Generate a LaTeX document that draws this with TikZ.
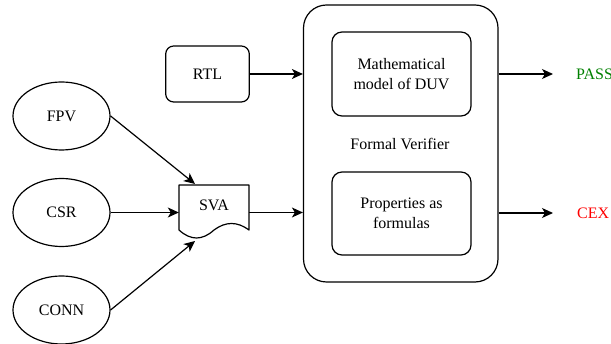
\documentclass[tikz,border=0pt]{standalone}
\usepackage{fontspec}
\setmainfont{Liberation Serif}
\usetikzlibrary{arrows.meta,shapes.geometric,calc}
\definecolor{passgreen}{RGB}{0,128,0}
\definecolor{cexred}{RGB}{255,0,0}
\begin{document}
\begin{tikzpicture}[x=1pt,y=-1pt,
  every node/.style={font=\fontsize{16}{20}\selectfont, align=center, inner sep=0pt},
  line/.style={line width=1.2pt},
  arr/.style={line width=1.2pt,-{Stealth[length=11pt,width=10pt,inset=3pt]}},
  rbox/.style={draw, line width=1.2pt, rectangle, rounded corners=10pt},
  oval/.style={draw, line width=1.2pt, ellipse, minimum width=97pt, minimum height=68pt}
]
\useasboundingbox (0,0) rectangle (611,344);
% big container
\node[rbox, rounded corners=23pt, minimum width=194.5pt, minimum height=277pt] (big) at (400.75,143.5) {};
\node[rbox, minimum width=139pt, minimum height=84pt] (m1) at (401.5,74) {Mathematical\\model of DUV};
\node[rbox, minimum width=139pt, minimum height=83pt] (m2) at (401.5,213.5) {Properties as\\formulas};
\node (fv) at (400,144) {Formal Verifier};
% RTL
\node[rbox, rounded corners=8pt, minimum width=83.6pt, minimum height=56pt] (rtl) at (207.5,74) {RTL};
% SVA document
\node[minimum width=70pt, minimum height=55pt] (sva) at (214,212.5) {};
\draw[line, line join=round] (179,185) -- (249,185) -- (249,230)
  .. controls (237.33,221.33) and (225.67,221.33) .. (214,230)
  .. controls (202.33,240.67) and (190.67,240.67) .. (179,230)
  -- cycle;
\node at (214,205) {SVA};
% ellipses
\node[oval] (fpv) at (61.5,116) {FPV};
\node[oval] (csr) at (61.5,212.5) {CSR};
\node[oval] (conn) at (61.5,310) {CONN};
% output labels
\node[anchor=west, text=passgreen] (pass) at (576,74) {PASS};
\node[anchor=west, text=cexred] (cex) at (577,213) {CEX};
\coordinate (passend) at (553,74);
\coordinate (cexend) at (553,213);
\coordinate (svatop) at (195,184);
\coordinate (svabot) at (195,241);
% connectors
\draw[arr] (rtl.east) -- (rtl.east -| big.west);
\draw[arr] (sva.east) -- (sva.east -| big.west);
\draw[arr] (fpv.east) -- (svatop);
\draw[arr] (csr.east) -- (sva.west);
\draw[arr] (conn.east) -- (svabot);
\draw[arr] (big.east |- m1.east) -- (passend);
\draw[arr] (big.east |- cexend) -- (cexend);
\end{tikzpicture}
\end{document}
